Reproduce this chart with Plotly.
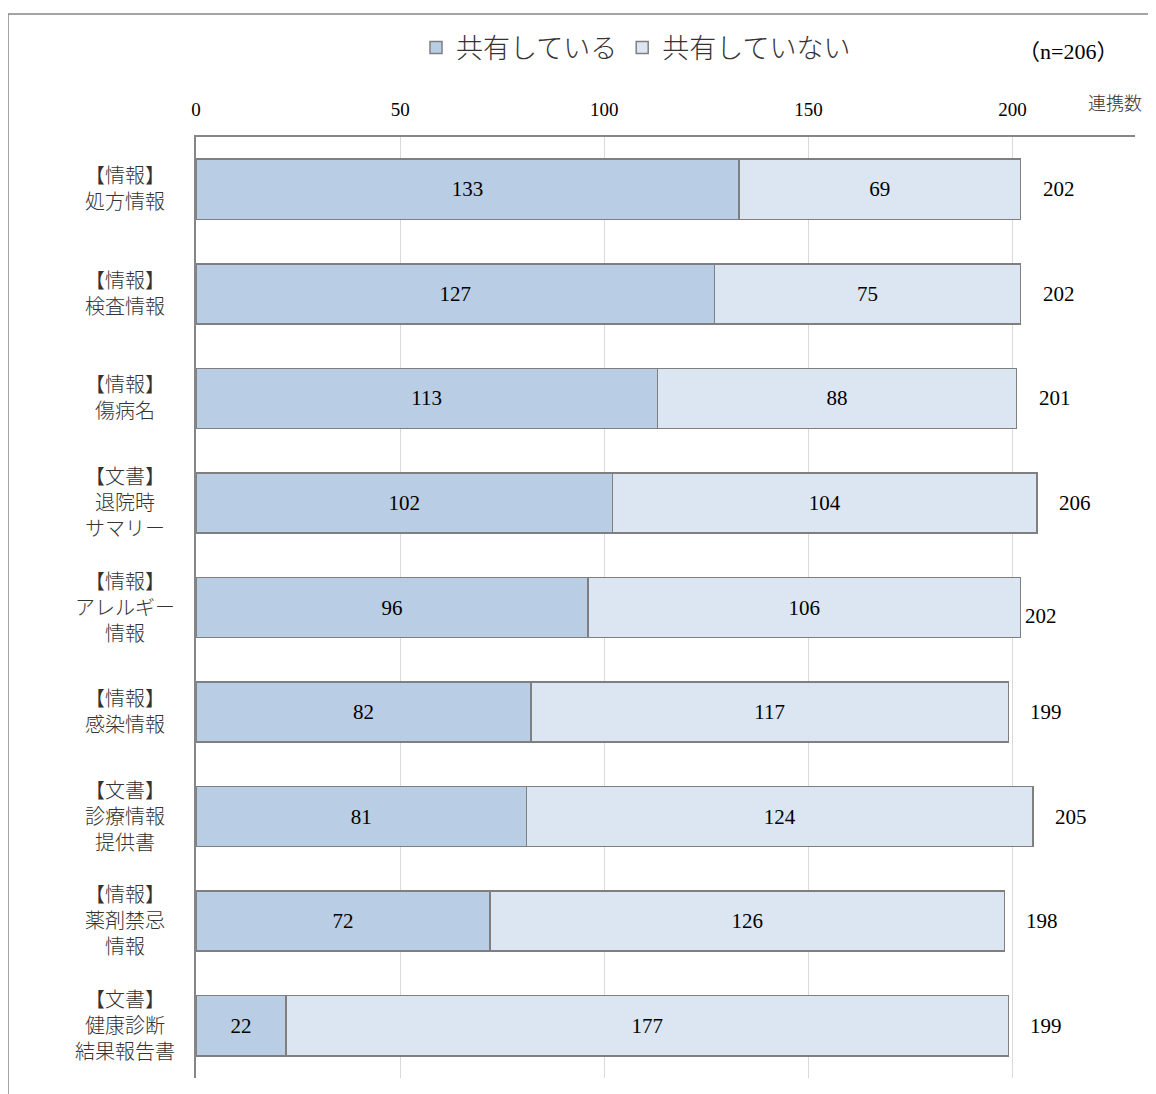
import plotly.graph_objects as go

categories = [
    "【情報】<br>処方情報",
    "【情報】<br>検査情報",
    "【情報】<br>傷病名",
    "【文書】<br>退院時<br>サマリー",
    "【情報】<br>アレルギー<br>情報",
    "【情報】<br>感染情報",
    "【文書】<br>診療情報<br>提供書",
    "【情報】<br>薬剤禁忌<br>情報",
    "【文書】<br>健康診断<br>結果報告書",
]
shared = [133, 127, 113, 102, 96, 82, 81, 72, 22]
not_shared = [69, 75, 88, 104, 106, 117, 124, 126, 177]
totals = [202, 202, 201, 206, 202, 199, 205, 198, 199]
series_names = ["共有している", "共有していない"]
x_ticks = [0, 50, 100, 150, 200]

FONT = "Liberation Serif, Noto Sans CJK JP, serif"
CJK = "Liberation Serif, Noto Sans CJK JP, sans-serif"
# label shift styling (px) for total labels
total_xshift = [20, 20, 20, 20, 2, 20, 20, 20, 20]
total_yshift = [0, 0, 0, 0, -8, 0, 0, 0, 0]

ypos = list(range(len(categories)))

fig = go.Figure()
fig.add_trace(go.Bar(
    y=ypos, x=shared, orientation="h", name=series_names[0],
    marker=dict(color="#B9CDE5", line=dict(color="#7F7F7F", width=1.5)),
    text=[str(v) for v in shared], textposition="inside", insidetextanchor="middle",
    textfont=dict(family=FONT, size=21, color="#000000"), width=0.575,
))
fig.add_trace(go.Bar(
    y=ypos, x=not_shared, orientation="h", name=series_names[1],
    marker=dict(color="#DCE6F2", line=dict(color="#7F7F7F", width=1.5)),
    text=[str(v) for v in not_shared], textposition="inside", insidetextanchor="middle",
    textfont=dict(family=FONT, size=21, color="#000000"), width=0.575,
))

OFF = 8  # page body margin
W, H = 1148, 1086
L, T = 196 - OFF, 137 - OFF
R = W - (1135 - OFF)
B = H - (1078 - OFF)
pw = W - L - R
ph = H - T - B

def px_x(px):
    return (px - OFF - L) / pw

def px_y(py):
    return (H - B - (py - OFF)) / ph

annotations = []
for i, c in enumerate(categories):
    annotations.append(dict(
        x=px_x(125), xref="paper", y=i, yref="y", text=c, showarrow=False,
        xanchor="center", yanchor="middle", align="center",
        font=dict(family=CJK, size=20, color="#333333", weight=300),
    ))
for i, t in enumerate(totals):
    annotations.append(dict(
        x=t, xref="x", y=i, yref="y", text=str(t), showarrow=False,
        xanchor="left", yanchor="middle", xshift=total_xshift[i], yshift=total_yshift[i],
        font=dict(family=FONT, size=21, color="#000000"),
    ))
annotations.append(dict(
    x=px_x(1115), xref="paper", y=px_y(104), yref="paper", text="連携数",
    showarrow=False, xanchor="center", yanchor="middle",
    font=dict(family=CJK, size=18, color="#333333", weight=300),
))
annotations.append(dict(
    x=px_x(1068), xref="paper", y=px_y(52), yref="paper", text="（n=206）",
    showarrow=False, xanchor="center", yanchor="middle",
    font=dict(family=FONT, size=22, color="#000000"),
))

fig.update_layout(
    width=W, height=H,
    margin=dict(l=L, r=R, t=T, b=B),
    paper_bgcolor="white", plot_bgcolor="white",
    barmode="stack",
    font=dict(family=FONT, color="#000000"),
    showlegend=True,
    legend=dict(
        orientation="h", x=px_x(636), xanchor="center", y=px_y(48), yanchor="middle",
        font=dict(family=CJK, size=27, color="#333333", weight=300),
        traceorder="normal", itemwidth=30, tracegroupgap=0,
    ),
    xaxis=dict(
        side="top", range=[0, 230], tickvals=x_ticks, ticks="",
        showgrid=True, gridcolor="#D9D9D9", gridwidth=1,
        showline=True, linecolor="#868686", linewidth=1.5,
        zeroline=False,
        tickfont=dict(family=FONT, size=19, color="#000000"),
        ticklabelstandoff=12,
    ),
    yaxis=dict(
        range=[len(categories) - 0.5, -0.5], showticklabels=False, ticks="",
        showgrid=False, showline=True, linecolor="#868686", linewidth=1.5,
        zeroline=False,
    ),
    annotations=annotations,
    shapes=[dict(
        type="rect", xref="paper", yref="paper",
        x0=px_x(8), x1=px_x(1180), y0=px_y(1120), y1=px_y(14),
        line=dict(color="#868686", width=1.5), fillcolor="rgba(0,0,0,0)", layer="below",
    )],
)

fig.write_html("out.html")
